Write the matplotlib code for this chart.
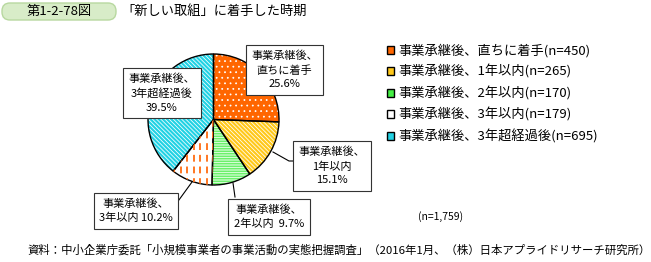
import matplotlib
matplotlib.use('Agg')
import matplotlib.pyplot as plt
from matplotlib.patches import Patch, FancyBboxPatch
import numpy as np

plt.rcParams['font.family'] = ['Noto Sans CJK JP', 'DejaVu Sans']
plt.rcParams['hatch.linewidth'] = 0.55

categories = ['事業承継後、直ちに着手', '事業承継後、1年以内', '事業承継後、2年以内',
              '事業承継後、3年以内', '事業承継後、3年超経過後']
counts = [450, 265, 170, 179, 695]
shares = [25.6, 15.1, 9.7, 10.2, 39.5]
box_texts = ['事業承継後、\n直ちに着手\n25.6%', '事業承継後、\n1年以内\n15.1%',
             '事業承継後、\n2年以内  9.7%', '事業承継後、\n3年以内 10.2%',
             '事業承継後、\n3年超経過後\n39.5%']
total_label = '(n=1,759)'
title = '「新しい取組」に着手した時期'
fig_no = '第1-2-78図'
source = '資料：中小企業庁委託「小規模事業者の事業活動の実態把握調査」（2016年1月、（株）日本アプライドリサーチ研究所）'

colors = ['#ff6600', '#ffc81a', '#44ee44', '#ffffff', '#22d2e4']
hatches = ['...', '\\' * 8, '-' * 10, None, '\\' * 8]

W, H = 651, 262
fig = plt.figure(figsize=(W / 100, H / 100), dpi=100)
ax = fig.add_axes([0, 0, 1, 1])

def Y(y):
    return H - y

cx, cy, r = 213.5, Y(119.5), 65.5

wedges, _ = ax.pie(shares, colors=colors, startangle=90, counterclock=False,
                   center=(cx, cy), radius=r, frame=True,
                   wedgeprops=dict(linewidth=0))
for w, h in zip(wedges, hatches):
    if h:
        w.set_hatch(h)
        w.set_edgecolor('white')

# orange dashes in the white slice
for xv in np.arange(cx - r, cx + r, 6.5):
    ln, = ax.plot([xv, xv], [cy - r, cy + r], color='#ff7722', lw=1.4,
                  dashes=(3.5, 2.5))
    ln.set_clip_path(wedges[3])

ax.pie(shares, startangle=90, counterclock=False, center=(cx, cy), radius=r,
       frame=True, wedgeprops=dict(fill=False, edgecolor='black', linewidth=1.0))
ax.set_xlim(0, W)
ax.set_ylim(0, H)
ax.set_aspect('equal')
ax.axis('off')

# leader lines
ax.plot([273, 289, 294], [Y(152), Y(161), Y(161)], color='black', lw=0.8)
ax.plot([233, 235], [Y(183), Y(197)], color='black', lw=0.8)
ax.plot([192, 176], [Y(182), Y(204)], color='black', lw=0.8)

box_pos = [(284.5, 70), (332, 166), (269, 217), (136, 211), (162, 93)]
for (bx, by), t in zip(box_pos, box_texts):
    ax.text(bx, Y(by), t, ha='center', va='center', fontsize=8, linespacing=1.45,
            bbox=dict(boxstyle='square,pad=0.5', fc='white', ec='#333333', lw=0.8))

handles = [Patch(facecolor=c, edgecolor='black', linewidth=1.0) for c in colors]
labels = ['%s(n=%d)' % (c, n) for c, n in zip(categories, counts)]
fig.legend(handles, labels, loc='upper left', bbox_to_anchor=(380 / W, 1 - 37 / H),
           frameon=False, fontsize=9.5, handlelength=0.55, handleheight=0.55,
           handletextpad=0.35, labelspacing=0.56, borderpad=0)

ax.text(418, Y(217), total_label, ha='left', va='center', fontsize=7.5)

# header
ax.add_patch(FancyBboxPatch((2, Y(20)), 114, 17, boxstyle='round,pad=0,rounding_size=8',
                            fc='#d8ecc8', ec='#b8d8a0', lw=1))
ax.text(59, Y(11.5), fig_no, ha='center', va='center', fontsize=9.5)
ax.text(121, Y(11.5), title, ha='left', va='center', fontsize=9.5)

ax.text(27, Y(250), source, ha='left', va='center', fontsize=8.2)

fig.savefig('out.png', dpi=100)
